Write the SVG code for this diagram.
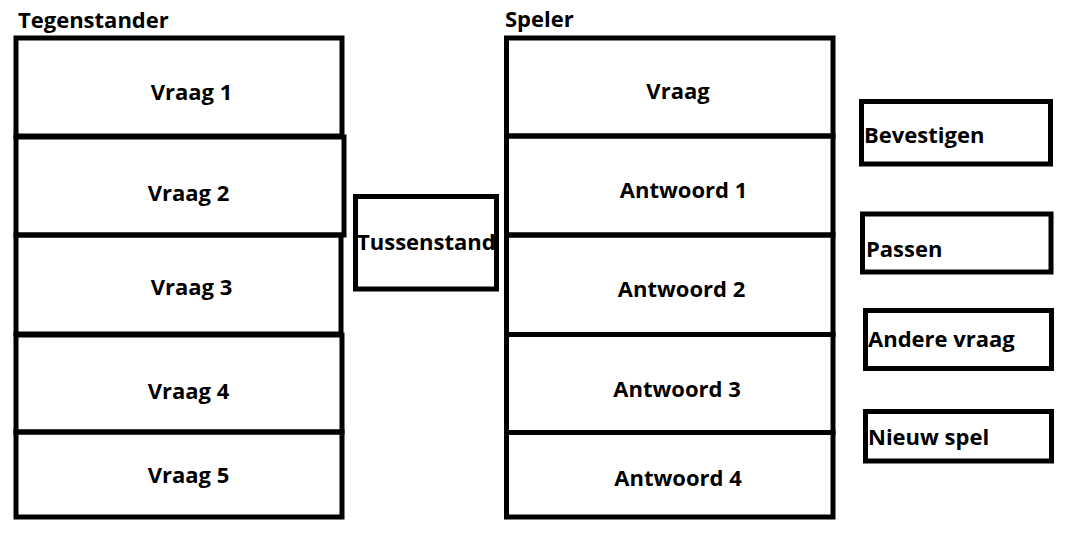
<svg xmlns="http://www.w3.org/2000/svg" width="1066" height="552" viewBox="0 0 1066 552">
<style>
.box{fill:none;stroke:#000;stroke-width:5}
.t{font-family:"Open Sans","Noto Sans","Liberation Sans",sans-serif;font-weight:bold;font-size:22px;fill:#000}
.c{text-anchor:middle}
</style>
<rect width="1066" height="552" fill="#fff"/>
<text class="t" x="18" y="28">Tegenstander</text>
<text class="t" x="505" y="27">Speler</text>
<g id="vraag1"><rect class="box" x="16" y="38" width="326" height="98"/><text class="t c" x="191.5" y="100">Vraag 1</text></g>
<g id="vraag2"><rect class="box" x="16" y="137" width="328" height="98"/><text class="t c" x="188.5" y="201">Vraag 2</text></g>
<g id="vraag3"><rect class="box" x="16" y="235" width="325" height="99"/><text class="t c" x="191.5" y="295">Vraag 3</text></g>
<g id="vraag4"><rect class="box" x="16" y="335" width="326" height="97"/><text class="t c" x="188.5" y="399">Vraag 4</text></g>
<g id="vraag5"><rect class="box" x="16" y="432" width="326" height="85"/><text class="t c" x="188.5" y="483">Vraag 5</text></g>
<g id="tussenstand"><rect class="box" x="355.5" y="196.5" width="141" height="92.5"/><text class="t" x="357" y="250">Tussenstand</text></g>
<g id="speler-vraag"><rect class="box" x="506.5" y="38" width="326.5" height="98"/><text class="t c" x="678" y="99">Vraag</text></g>
<g id="antwoord1"><rect class="box" x="506.5" y="136" width="326.5" height="99"/><text class="t c" x="683.5" y="198">Antwoord 1</text></g>
<g id="antwoord2"><rect class="box" x="506.5" y="235" width="326.5" height="99.5"/><text class="t c" x="681.5" y="297">Antwoord 2</text></g>
<g id="antwoord3"><rect class="box" x="506.5" y="334.5" width="326.5" height="98"/><text class="t c" x="677" y="397">Antwoord 3</text></g>
<g id="antwoord4"><rect class="box" x="506.5" y="432.5" width="326.5" height="84.5"/><text class="t c" x="678" y="486">Antwoord 4</text></g>
<g id="bevestigen"><rect class="box" x="861.5" y="101.5" width="189" height="62.5"/><text class="t" x="864" y="143">Bevestigen</text></g>
<g id="passen"><rect class="box" x="862.5" y="214" width="188.5" height="58"/><text class="t" x="866" y="256.5">Passen</text></g>
<g id="andere-vraag"><rect class="box" x="865.5" y="310.5" width="186" height="58"/><text class="t" x="868" y="346.5">Andere vraag</text></g>
<g id="nieuw-spel"><rect class="box" x="865.5" y="411.5" width="186" height="49.5"/><text class="t" x="868" y="445">Nieuw spel</text></g>
<g id="connectors"></g>
</svg>
